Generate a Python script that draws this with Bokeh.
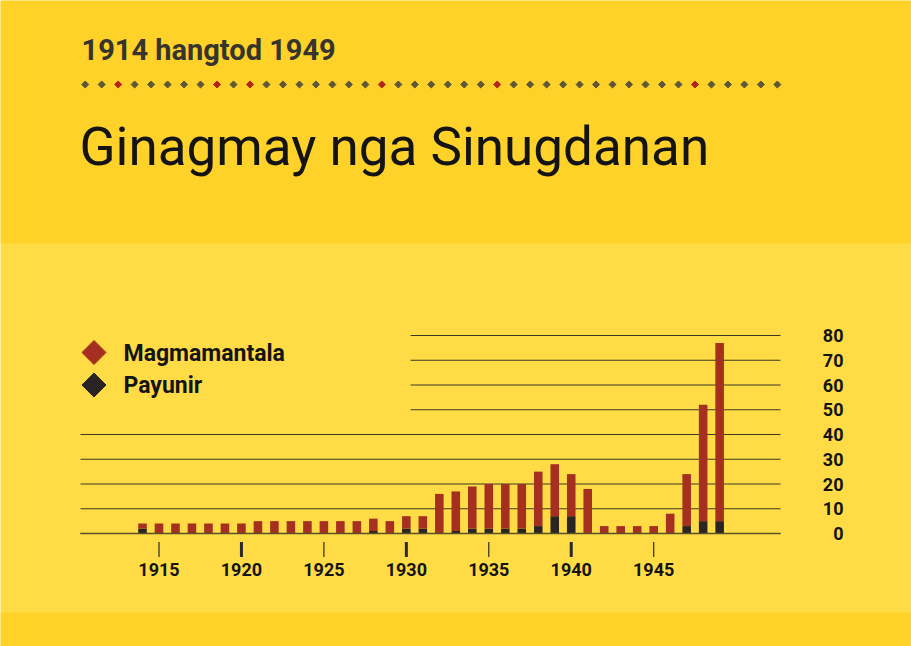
import math
from bokeh.plotting import figure
from bokeh.models import ColumnDataSource, BoxAnnotation, Label
from bokeh.core.properties import value
from bokeh.embed import file_html
from bokeh.resources import INLINE

# ---------------- data ----------------
years = list(range(1914, 1950))
payunir = [2, 0, 0, 0, 0, 0, 0, 0, 0, 0, 0, 0, 0, 0,
           1, 0, 2, 2,
           0, 1, 2, 2, 2, 2,
           3, 7, 7, 0,
           0, 0, 0, 0,
           0, 3, 5, 5]
magmamantala = [2, 4, 4, 4, 4, 4, 4, 5, 5, 5, 5, 5, 5, 5,
                5, 5, 5, 5,
                16, 16, 17, 18, 18, 18,
                22, 21, 17, 18,
                3, 3, 3, 3,
                8, 21, 47, 72]
series_names = ["Magmamantala", "Payunir"]
x_tick_years = [1915, 1920, 1925, 1930, 1935, 1940, 1945]
x_tick_labels = [str(y) for y in x_tick_years]
y_ticks = [0, 10, 20, 30, 40, 50, 60, 70, 80]
y_tick_labels = [str(v) for v in y_ticks]
subtitle = "1914 hangtod 1949"
title = "Ginagmay nga Sinugdanan"

# ---------------- styles ----------------
RED = "#a5301f"
DARK = "#2a2522"
BG_MID = "#ffdc46"
BG_EDGE = "#ffd22a"
GRID = "#3d3824"
TXT = "#141414"
W, H = 911, 646
OFF = 0  # page offset of the canvas

# page-pixel -> data mapping (layout of the reference page)
X0_PX, PX_PER_YEAR = 142.0, 16.49   # centre of first bar, pixels per year
Y0_PX, PX_PER_UNIT = 533.0, 2.475   # baseline, pixels per unit


def dx(px):
    return years[0] + (px - X0_PX) / PX_PER_YEAR


def dy(py):
    return (Y0_PX - py) / PX_PER_UNIT


p = figure(width=W, height=H, output_backend="svg", toolbar_location=None,
           x_range=(dx(OFF), dx(OFF + W)), y_range=(dy(OFF + H), dy(OFF)),
           x_axis_location=None, y_axis_location=None,
           min_border=0, min_border_left=0, min_border_right=0,
           min_border_top=0, min_border_bottom=0)
p.outline_line_color = None
p.background_fill_color = BG_MID
p.border_fill_color = BG_MID
p.grid.visible = False

# background bands
p.add_layout(BoxAnnotation(bottom=dy(243), fill_color=BG_EDGE, fill_alpha=1,
                           line_color=None, level="underlay"))
p.add_layout(BoxAnnotation(top=dy(612), fill_color=BG_EDGE, fill_alpha=1,
                           line_color=None, level="underlay"))

# subtitle, decorative diamond rule, title
p.add_layout(Label(x=dx(81), y=dy(49), text=subtitle,
                   text_font="Roboto",
                   text_font_style="bold", text_font_size="29px",
                   text_color="#36342c", text_baseline="middle"))
n_diamonds = 43
red_idx = {2, 8, 10, 18, 25, 37}
dsrc = ColumnDataSource(dict(
    x=[dx(84.7) + i * 16.48 / PX_PER_YEAR for i in range(n_diamonds)],
    y=[dy(84)] * n_diamonds,
    c=["#b3261e" if i in red_idx else "#5e5838" for i in range(n_diamonds)]))
p.scatter("x", "y", source=dsrc, marker="square", size=5, angle=math.pi / 4,
          fill_color="c", line_color="c")
p.add_layout(Label(x=dx(79), y=dy(146), text=title,
                   text_font="Roboto",
                   text_font_size="53px", text_color=TXT,
                   text_baseline="middle"))

# gridlines (lower ones full width, upper ones shortened for the legend)
gx0 = [dx(80) if v <= 40 else dx(410) for v in y_ticks]
gsrc = ColumnDataSource(dict(x0=gx0, x1=[dx(780)] * len(y_ticks),
                             y=y_ticks))
p.segment(x0="x0", y0="y", x1="x1", y1="y", source=gsrc,
          line_color=GRID, line_width=1.2)

# stacked bars
src = ColumnDataSource(dict(year=years, payunir=payunir,
                            magmamantala=magmamantala))
p.vbar_stack(["payunir", "magmamantala"], x="year", width=0.52,
             color=[DARK, RED], source=src, line_color=None)

# baseline over bars
p.segment(x0=[dx(80)], y0=[0], x1=[dx(780)], y1=[0],
          line_color="#5a5028", line_width=1.5)

# x ticks and labels
tsrc = ColumnDataSource(dict(
    x=x_tick_years, lab=x_tick_labels,
    w=[3 if y % 10 == 0 else 1.2 for y in x_tick_years]))
p.segment(x0="x", y0=dy(541.5), x1="x", y1=dy(556.5), source=tsrc,
          line_color="#2a2a2a", line_width="w")
p.text(x="x", y=dy(569), text="lab", source=tsrc,
       text_font=value("Roboto"), text_font_style="bold",
       text_font_size="18px", text_color=TXT,
       text_align="center", text_baseline="middle")

# y labels on the right
ysrc = ColumnDataSource(dict(y=y_ticks, lab=y_tick_labels))
p.text(x=dx(843), y="y", text="lab", source=ysrc,
       text_font=value("Roboto"), text_font_style="bold",
       text_font_size="18px", text_color=TXT,
       text_align="right", text_baseline="middle")

# legend
lsrc = ColumnDataSource(dict(x=[dx(93.5)] * 2, y=[dy(352), dy(384.5)],
                             c=[RED, DARK], lab=series_names,
                             tx=[dx(123)] * 2, ty=[dy(353), dy(385)]))
p.scatter("x", "y", source=lsrc, marker="square", size=17,
          angle=math.pi / 4, fill_color="c", line_color="c")
p.text(x="tx", y="ty", text="lab", source=lsrc,
       text_font=value("Roboto"), text_font_style="bold",
       text_font_size="23px", text_color=TXT, text_baseline="middle")

open("out.html", "w").write(file_html(p, INLINE))
